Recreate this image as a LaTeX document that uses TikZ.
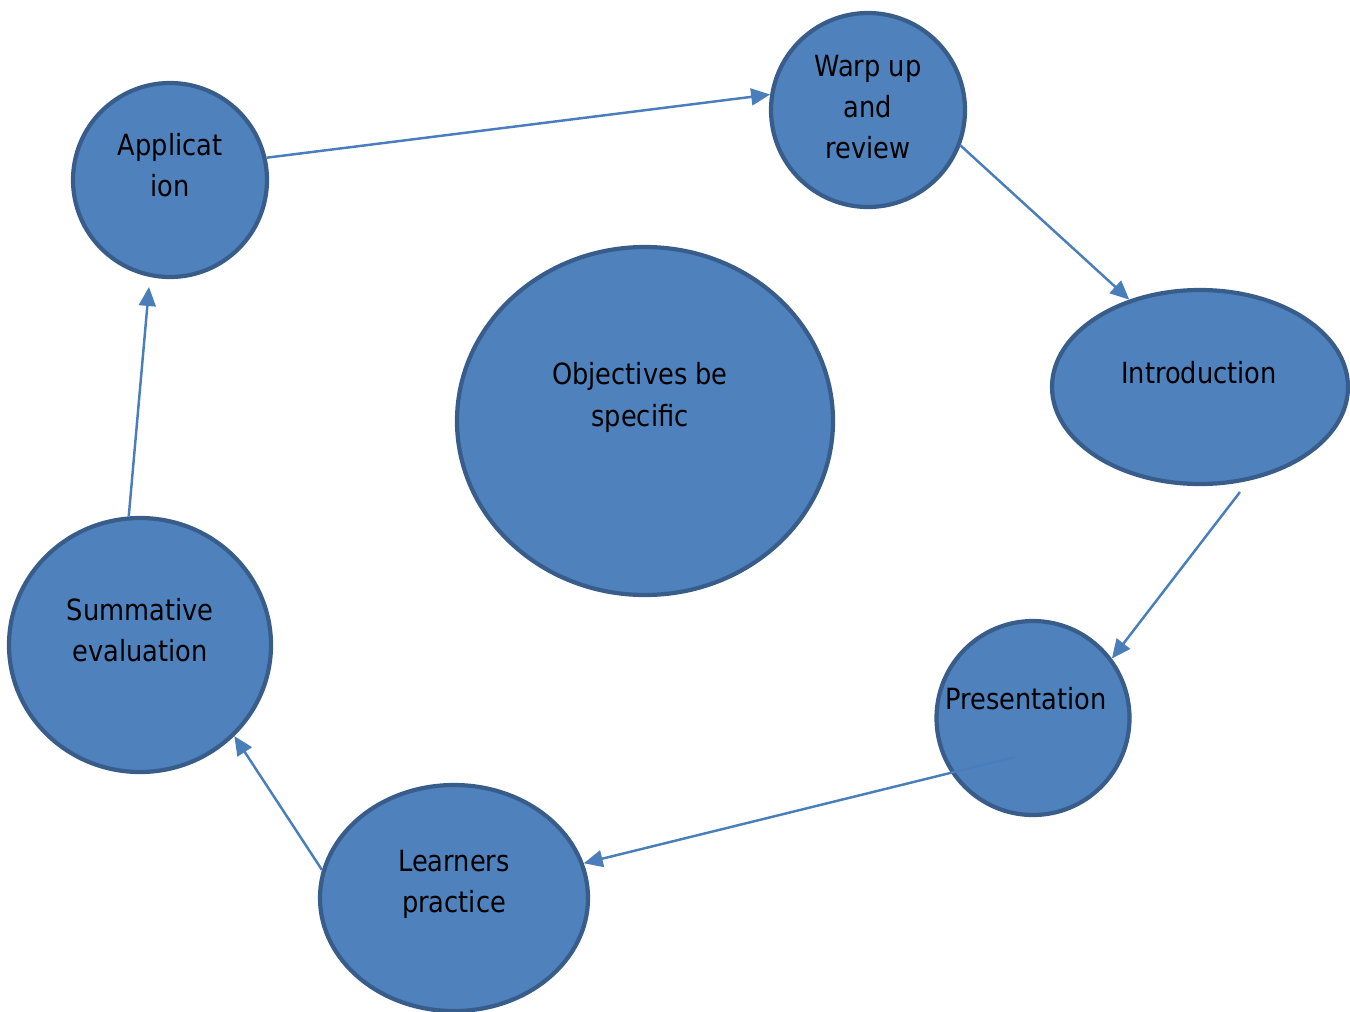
\documentclass[tikz,border=0pt]{standalone}
\usepackage{fontspec}
\setmainfont{DejaVu Sans}[FakeStretch=0.88]
\usetikzlibrary{shapes.geometric,arrows.meta}
\definecolor{blobfill}{HTML}{4F81BD}
\definecolor{blobline}{HTML}{385D8A}
\definecolor{arrowblue}{HTML}{4A7EBB}
\newlength{\px}
\setlength{\px}{0.1mm}

\begin{document}
\begin{tikzpicture}[x=\px, y=\px,
    blob/.style={draw=blobline, fill=blobfill, ellipse, line width=1.2pt, inner sep=0pt},
    txt/.style={align=center, font=\fontsize{8.3}{11.7}\selectfont, text=black, inner sep=0pt},
    flow/.style={draw=arrowblue, line width=0.7pt, -{Triangle[length=5.4pt,width=4.8pt]}}]
    \useasboundingbox (0,0) rectangle (1350,1011);

    % The stages round the cycle
    \node[blob, minimum width=194\px, minimum height=194\px] (app) at (170,831) {};
    \node[blob, minimum width=194\px, minimum height=194\px] (warp) at (868,901) {};
    \node[blob, minimum width=296\px, minimum height=194\px] (intro) at (1200,624) {};
    \node[blob, minimum width=193\px, minimum height=194\px] (pres) at (1033,293) {};
    \node[blob, minimum width=268\px, minimum height=226\px] (learn) at (454,113) {};
    \node[blob, minimum width=262\px, minimum height=254\px] (summ) at (140,366) {};
    % The middle one
    \node[blob, minimum width=376\px, minimum height=348\px] (obj) at (645,590) {};

    % Texts sit a little above each centre
    \node[txt] (app-txt) at (170,845.5) {Applicat\\ion};
    \node[txt] (warp-txt) at (868,904) {Warp up\\and\\review};
    \node[txt] (intro-txt) at (1199,638) {Introduction};
    \node[txt] (pres-txt) at (1026,312) {Presentation};
    \node[txt] (learn-txt) at (454,127) {Learners\\practice};
    \node[txt] (summ-txt) at (140,381) {Summative\\evaluation};
    \node[txt] (obj-txt) at (640,613.5) {Objectives be\\specific};

    % Loose ends of two arrows
    \coordinate (intro-out) at (1240,519);
    \coordinate (pres-out) at (1015,254);
    \coordinate (app-in) at (149,724);

    % Arrows
    \draw[flow] (app.13.3) -- (warp.171.9);
    \draw[flow] (warp.-21.4) -- (intro.129.6);
    \draw[flow] (intro-out) -- (pres.37.2);
    \draw[flow] (pres-out) -- (learn.15.6);
    \draw[flow] (learn.168) -- (summ.-44.4);
    \draw[flow] (summ.95) -- (app-in);

\end{tikzpicture}
\end{document}
